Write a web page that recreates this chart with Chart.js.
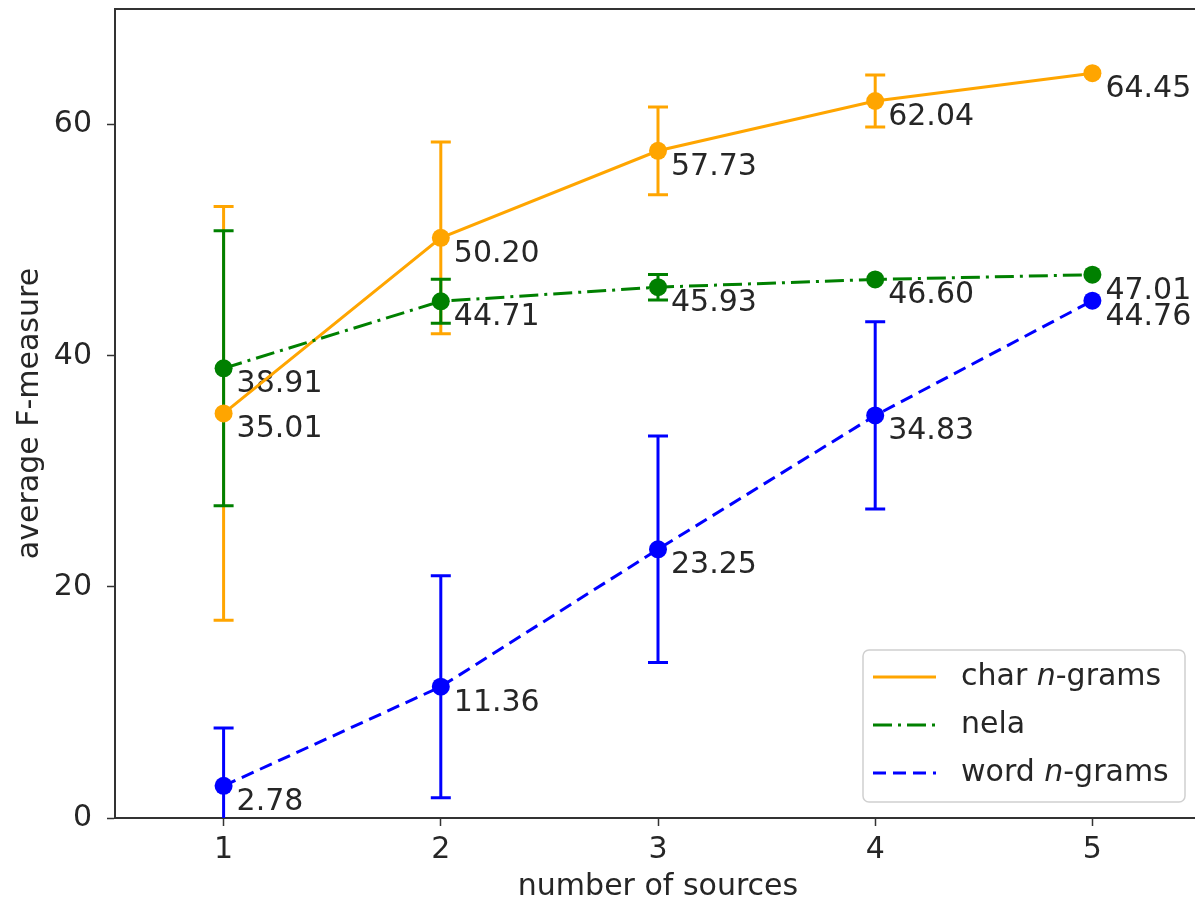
<!DOCTYPE html>
<html lang="en">
<head>
  <meta charset="UTF-8">
  <title>average F-measure vs number of sources</title>
  <script src="https://cdn.jsdelivr.net/npm/chart.js"></script>
  <style>
    body {
      margin: 0;
      background: #fff;
      overflow: hidden;
    }
    #wrap {
      position: absolute;
      left: 0;
      top: 0;
      width: 1195px;
      height: 909px;
      overflow: hidden;
    }
  </style>
</head>
<body>
  <div id="wrap">
    <canvas id="fm" width="1210" height="909"></canvas>
  </div>

  <script>
  // data
  const sources = [1, 2, 3, 4, 5];
  const xTicks = [1, 2, 3, 4, 5];
  const yTicks = [0, 20, 40, 60];

  const charMean = [35.01, 50.20, 57.73, 62.04, 64.45];
  const charErr  = [17.9, 8.3, 3.8, 2.25, 0];
  const nelaMean = [38.91, 44.71, 45.93, 46.60, 47.01];
  const nelaErr  = [11.9, 1.9, 1.1, 0, 0];
  const wordMean = [2.78, 11.36, 23.25, 34.83, 44.76];
  const wordErr  = [5.0, 9.6, 9.8, 8.1, 0];

  const seriesNames = ["char n-grams", "nela", "word n-grams"];

  const FONT = "'DejaVu Sans', sans-serif";
  const FS = 30;
  const TXT = "#262626";

  const ORANGE = "#FFA500";
  const GREEN = "#008000";
  const BLUE = "#0000FF";
  const DASHDOT = [19, 6, 3, 6];
  const DASHED = [13, 7];

  function pts(means) {
    return sources.map((s, i) => ({ x: s, y: means[i] }));
  }

  const series = [
    { name: seriesNames[0], mean: charMean, err: charErr, color: ORANGE, dash: [] },
    { name: seriesNames[1], mean: nelaMean, err: nelaErr, color: GREEN, dash: DASHDOT },
    { name: seriesNames[2], mean: wordMean, err: wordErr, color: BLUE, dash: DASHED }
  ];

  // error bars and value labels, drawn under the lines
  const errorBars = {
    id: "errorBars",
    beforeDatasetsDraw(chart) {
      const { ctx, chartArea, scales } = chart;
      const xs = scales.x, ys = scales.y;
      ctx.save();
      ctx.beginPath();
      ctx.rect(chartArea.left, chartArea.top, chartArea.right - chartArea.left, chartArea.bottom - chartArea.top);
      ctx.clip();
      series.forEach(s => {
        ctx.strokeStyle = s.color;
        ctx.lineWidth = 3;
        ctx.setLineDash([]);
        s.mean.forEach((m, i) => {
          if (!s.err[i]) return;
          const x = xs.getPixelForValue(sources[i]);
          const y1 = ys.getPixelForValue(m + s.err[i]);
          const y2 = ys.getPixelForValue(m - s.err[i]);
          ctx.beginPath();
          ctx.moveTo(x, y1); ctx.lineTo(x, y2);
          ctx.moveTo(x - 10, y1); ctx.lineTo(x + 10, y1);
          ctx.moveTo(x - 10, y2); ctx.lineTo(x + 10, y2);
          ctx.stroke();
        });
      });
      ctx.restore();

      ctx.save();
      ctx.font = FS + "px " + FONT;
      ctx.fillStyle = TXT;
      ctx.textAlign = "left";
      ctx.textBaseline = "alphabetic";
      series.forEach(s => {
        s.mean.forEach((m, i) => {
          const x = xs.getPixelForValue(sources[i]);
          const y = ys.getPixelForValue(m);
          ctx.fillText(m.toFixed(2), x + 13, y + 24);
        });
      });
      ctx.restore();
    },
    afterDraw(chart) {
      const { ctx, chartArea } = chart;
      // top spine
      ctx.save();
      ctx.strokeStyle = "#333";
      ctx.lineWidth = 2;
      ctx.beginPath();
      ctx.moveTo(chartArea.left - 1, chartArea.top);
      ctx.lineTo(chartArea.right + 1, chartArea.top);
      ctx.stroke();
      ctx.restore();

      // legend, lower right
      const w = 322, h = 152;
      const bx = chartArea.right - 16 - w;
      const by = chartArea.bottom - 16 - h;
      ctx.save();
      ctx.fillStyle = "rgba(255,255,255,0.85)";
      ctx.strokeStyle = "#d0d0d0";
      ctx.lineWidth = 1.5;
      ctx.beginPath();
      ctx.roundRect(bx, by, w, h, 6);
      ctx.fill();
      ctx.stroke();
      series.forEach((s, i) => {
        const cy = by + 27 + i * 48;
        ctx.strokeStyle = s.color;
        ctx.lineWidth = 3;
        ctx.setLineDash(s.dash);
        ctx.beginPath();
        ctx.moveTo(bx + 10, cy);
        ctx.lineTo(bx + 73, cy);
        ctx.stroke();
        ctx.setLineDash([]);
        ctx.fillStyle = TXT;
        ctx.textBaseline = "middle";
        ctx.textAlign = "left";
        let tx = bx + 98;
        const parts = s.name.split(" n-");
        if (parts.length === 2) {
          ctx.font = FS + "px " + FONT;
          ctx.fillText(parts[0] + " ", tx, cy);
          tx += ctx.measureText(parts[0] + " ").width;
          ctx.font = "italic " + FS + "px " + FONT;
          ctx.fillText("n", tx, cy);
          tx += ctx.measureText("n").width;
          ctx.font = FS + "px " + FONT;
          ctx.fillText("-" + parts[1], tx, cy);
        } else {
          ctx.font = FS + "px " + FONT;
          ctx.fillText(s.name, tx, cy);
        }
      });
      ctx.restore();
    }
  };

  function lineSet(s, order) {
    return {
      label: s.name,
      data: pts(s.mean),
      borderColor: s.color,
      backgroundColor: s.color,
      borderWidth: 3,
      borderDash: s.dash,
      pointRadius: 9,
      pointBorderWidth: 0,
      pointBackgroundColor: s.color,
      tension: 0,
      order: order
    };
  }

  new Chart(document.getElementById("fm").getContext("2d"), {
    type: "line",
    data: {
      datasets: [
        lineSet(series[0], 3),
        lineSet(series[1], 2),
        lineSet(series[2], 1)
      ]
    },
    options: {
      responsive: false,
      animation: false,
      events: [],
      layout: { padding: { top: 6, right: 7, left: 0, bottom: 0 } },
      plugins: {
        legend: { display: false },
        tooltip: { enabled: false }
      },
      scales: {
        x: {
          type: "linear",
          min: 0.5,
          max: 5.5,
          afterBuildTicks(axis) { axis.ticks = xTicks.map(v => ({ value: v })); },
          afterFit(axis) {
            axis.height = 91;
            axis.paddingLeft = 0; axis.paddingRight = 0;
          },
          grid: { drawOnChartArea: false, drawTicks: true, tickLength: 8, tickColor: "#333", tickWidth: 1.5 },
          border: { color: "#333", width: 2 },
          ticks: { color: TXT, font: { family: FONT, size: FS }, padding: 6, maxRotation: 0 },
          title: { display: true, text: "number of sources", color: TXT, font: { family: FONT, size: FS }, padding: { top: 0, bottom: 4 } }
        },
        y: {
          min: 0,
          max: 70,
          afterBuildTicks(axis) { axis.ticks = yTicks.map(v => ({ value: v })); },
          afterFit(axis) {
            axis.width = 115;
            axis.paddingTop = 0; axis.paddingBottom = 0;
          },
          grid: { drawOnChartArea: false, drawTicks: true, tickLength: 8, tickColor: "#333", tickWidth: 1.5 },
          border: { color: "#333", width: 2 },
          ticks: { color: TXT, font: { family: FONT, size: FS }, padding: 15 },
          title: { display: true, text: "average F-measure", color: TXT, font: { family: FONT, size: FS }, padding: { top: 12, bottom: 0 } }
        }
      }
    },
    plugins: [errorBars]
  });
  </script>
</body>
</html>
